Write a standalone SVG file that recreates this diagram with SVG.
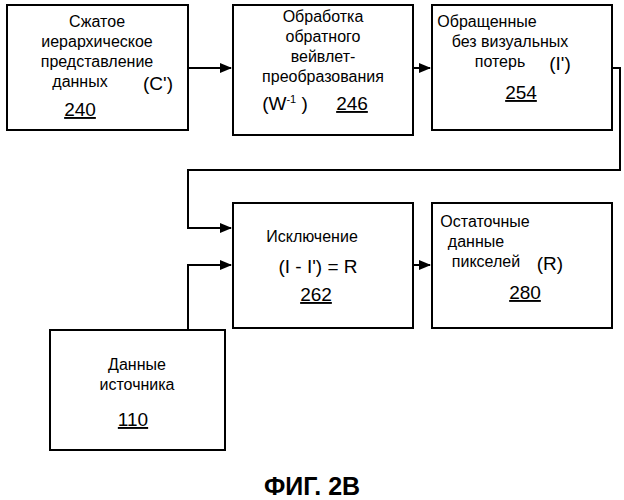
<svg xmlns="http://www.w3.org/2000/svg" width="624" height="500" viewBox="0 0 624 500">
<style>
.b{fill:#fff;stroke:#000;stroke-width:2}
text{font-family:"Liberation Sans",Arial,sans-serif;font-size:16px;fill:#000;text-anchor:middle}
text.m{font-size:19px}
text.u{font-size:19px;text-decoration:underline}
text.t{font-size:25px;font-weight:bold}
.c{fill:none;stroke:#000;stroke-width:2}
</style>
<defs><marker id="a" markerWidth="12" markerHeight="10" refX="11" refY="5" orient="auto" markerUnits="userSpaceOnUse"><path d="M0,0L12,5L0,10z"/></marker></defs>
<rect width="624" height="500" fill="#fff"/>
<g id="n240"><rect class="b" x="7" y="5" width="181" height="125"/>
<text x="97" y="27">Сжатое</text><text x="97" y="47">иерархическое</text><text x="97" y="67">представление</text><text x="80" y="87">данных</text><text class="m" x="158" y="90">(C')</text><text class="u" x="80" y="116">240</text></g>
<g id="n246"><rect class="b" x="233" y="5" width="180" height="130"/>
<text x="323" y="22">Обработка</text><text x="323" y="42">обратного</text><text x="323" y="62">вейвлет-</text><text x="323" y="82">преобразования</text><text class="m" x="285" y="110">(W<tspan font-size="11" dy="-7">-1</tspan><tspan dy="7">  )</tspan></text><text class="u" x="352" y="110">246</text></g>
<g id="n254"><rect class="b" x="432" y="5" width="180" height="125"/>
<text x="487" y="27">Обращенные</text><text x="510" y="47">без визуальных</text><text x="500" y="67">потерь</text><text class="m" x="560" y="70">(I')</text><text class="u" x="521" y="99">254</text></g>
<g id="n262"><rect class="b" x="233" y="203" width="180" height="125"/>
<text x="312" y="242">Исключение</text><text class="m" x="318" y="273">(I - I') = R</text><text class="u" x="316" y="301">262</text></g>
<g id="n280"><rect class="b" x="432" y="203" width="180" height="125"/>
<text x="485" y="227">Остаточные</text><text x="476" y="247">данные</text><text x="486" y="267">пикселей</text><text class="m" x="550" y="270">(R)</text><text class="u" x="525" y="299">280</text></g>
<g id="n110"><rect class="b" x="50" y="330" width="175" height="120"/>
<text x="137" y="370">Данные</text><text x="137" y="390">источника</text><text class="u" x="133" y="426">110</text></g>
<g id="conn">
<path class="c" d="M188,68H231" marker-end="url(#a)"/>
<path class="c" d="M413,68H430" marker-end="url(#a)"/>
<path class="c" d="M612,68H620V170H188V228H231" marker-end="url(#a)"/>
<path class="c" d="M188,330V265H231" marker-end="url(#a)"/>
<path class="c" d="M413,265H430" marker-end="url(#a)"/>
</g>
<text class="t" x="312" y="495">ФИГ. 2В</text>
</svg>
